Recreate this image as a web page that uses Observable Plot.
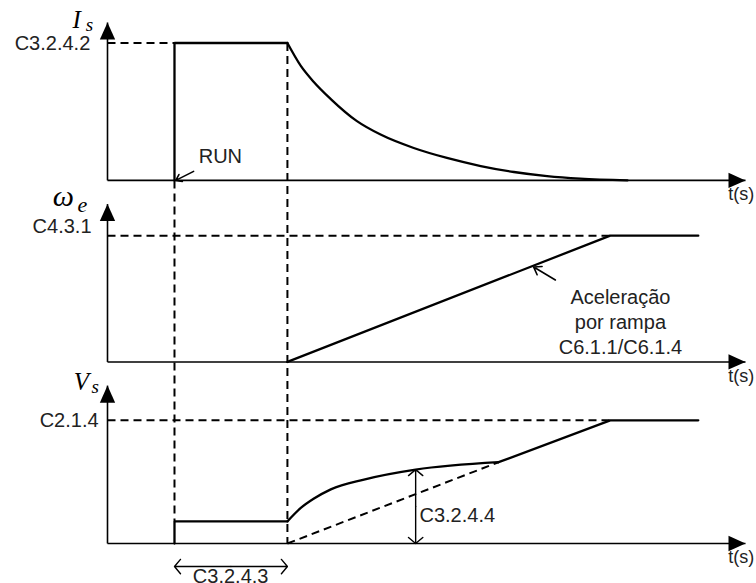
<!DOCTYPE html>
<html>
<head>
<meta charset="utf-8">
<script src="https://cdn.jsdelivr.net/npm/d3@7"></script>
<script src="https://cdn.jsdelivr.net/npm/@observablehq/plot@0.6"></script>
<style>
  body { margin: 0; background: #fff; }
  #chart svg { display: block; }
</style>
</head>
<body>
<div id="chart"></div>
<script>
// ---------------- data ----------------
const panelNames     = ["Is", "we", "Vs"];
const axisTitleMain  = ["I", "ω", "V"];
const axisTitleSub   = ["s", "e", "s"];
const levelLabels    = ["C3.2.4.2", "C4.3.1", "C2.1.4"];
const levelValues    = [0.87, 0.80, 0.78];      // reference levels (fraction of axis height)

const tRun      = 1.05;   // RUN command
const tLimitEnd = 2.82;   // end of current-limit interval (C3.2.4.3)
const tRampEnd  = 7.88;   // end of acceleration ramp
const tEnd      = 9.26;   // end of the drawn traces
const tAxisMax  = 10;     // time axis length

// current Is : decay after the limit interval
const isDecayT = [2.82, 3.03, 3.23, 3.50, 3.91, 4.28, 4.80, 5.32, 5.85, 6.37, 6.89, 7.41, 8.15];
const isDecayV = [0.87, 0.725, 0.625, 0.515, 0.375, 0.29, 0.205, 0.142, 0.091, 0.053, 0.027, 0.011, 0];

// voltage Vs : step, boost curve, then ramp
const vsStepV  = 0.14;
const vsCurveT = [2.82, 3.03, 3.23, 3.50, 4.02, 4.83, 6.13];
const vsCurveV = [0.14, 0.225, 0.283, 0.343, 0.405, 0.468, 0.515];
const vsBoostT = 4.83;    // where C3.2.4.4 is measured

const tAxisLabel  = "t(s)";
const runLabel    = "RUN";
const rampLabel   = "Aceleração\npor rampa\nC6.1.1/C6.1.4";
const boostLabel  = "C3.2.4.4";
const limitLabel  = "C3.2.4.3";

// ---------------- layout ----------------
const base = [2.3, 1.15, 0];                    // vertical offset of each panel
const Y = (k, v) => base[k] + v;
const L = levelValues;

const labelPosT = [-0.27, -0.25, -0.14];
const labelPosV = [0.865, 0.86, 0.78];
const titlePosT = [-0.55, -0.86, -0.53];
const titlePosV = [0.962, 0.987, 0.975];
const subPosT   = [-0.34, -0.47, -0.25];
const subPosV   = [0.943, 0.949, 0.956];

// ---------------- build marks data ----------------
const solid = [];
const push = (id, k, ts, vs) => ts.forEach((t, i) => solid.push({id, t, y: Y(k, vs[i])}));
push("isStep", 0, [tRun, tRun, tLimitEnd], [0, L[0], L[0]]);
push("weRamp", 1, [tLimitEnd, tRampEnd, tEnd], [0, L[1], L[1]]);
push("vsStep", 2, [tRun, tRun, tLimitEnd], [0, vsStepV, vsStepV]);
const lastT = vsCurveT[vsCurveT.length - 1], lastV = vsCurveV[vsCurveV.length - 1];
push("vsRamp", 2, [lastT, tRampEnd, tEnd], [lastV, L[2], L[2]]);

const curves = [];
isDecayT.forEach((t, i) => curves.push({id: "is", t, y: Y(0, isDecayV[i])}));
vsCurveT.forEach((t, i) => curves.push({id: "vs", t, y: Y(2, vsCurveV[i])}));

const axes = [];
panelNames.forEach((p, k) => {
  axes.push({x1: 0, y1: Y(k, 0), x2: 0, y2: Y(k, 1)});
  axes.push({x1: 0, y1: Y(k, 0), x2: tAxisMax, y2: Y(k, 0)});
});
const headsUp = panelNames.map((p, k) => ({t: 0, y: Y(k, 1)}));
const headsRight = panelNames.map((p, k) => ({t: tAxisMax, y: Y(k, 0)}));

const dashed = [
  {x1: tRun, y1: Y(0, 0), x2: tRun, y2: Y(2, vsStepV)},
  {x1: tLimitEnd, y1: Y(0, L[0]), x2: tLimitEnd, y2: Y(2, 0)},
  {x1: 0, y1: Y(0, L[0]), x2: tRun, y2: Y(0, L[0])},
  {x1: 0, y1: Y(1, L[1]), x2: tRampEnd, y2: Y(1, L[1])},
  {x1: 0, y1: Y(2, L[2]), x2: tRampEnd, y2: Y(2, L[2])},
  {x1: tLimitEnd, y1: Y(2, 0), x2: lastT, y2: Y(2, lastV)}
];

const levelText = levelLabels.map((s, k) => ({s, t: labelPosT[k], y: Y(k, labelPosV[k])}));
const titleText = axisTitleMain.map((s, k) => ({s, t: titlePosT[k], y: Y(k, titlePosV[k]), size: k === 1 ? 30 : 25}));
const subText = axisTitleSub.map((s, k) => ({s, t: subPosT[k], y: Y(k, subPosV[k]), size: k === 1 ? 22 : 19}));
const tText = panelNames.map((p, k) => ({s: tAxisLabel, t: 9.73, y: Y(k, -0.045)}));

const smallArrows = [
  {x1: 1.35, y1: Y(0, 0.057), x2: 1.07, y2: Y(0, 0.0)},
  {x1: 7.02, y1: Y(1, 0.519), x2: 6.68, y2: Y(1, 0.601)}
];
const boostMid = 0.468 / 2;
const limitY = -0.146;
const dimArrows = [
  {x1: vsBoostT, y1: Y(2, boostMid), x2: vsBoostT, y2: Y(2, 0.468)},
  {x1: vsBoostT, y1: Y(2, boostMid), x2: vsBoostT, y2: Y(2, 0)},
  {x1: (tRun + tLimitEnd) / 2, y1: Y(2, limitY), x2: tRun, y2: Y(2, limitY)},
  {x1: (tRun + tLimitEnd) / 2, y1: Y(2, limitY), x2: tLimitEnd, y2: Y(2, limitY)}
];

// custom arrowhead symbol: tip at origin, pointing up
const headSym = {
  draw(ctx, size) {
    const s = Math.sqrt(size);
    ctx.moveTo(0, 0);
    ctx.lineTo(-0.45 * s, s);
    ctx.lineTo(0.45 * s, s);
    ctx.closePath();
  }
};

const SANS = "'Liberation Sans', Arial, Helvetica, sans-serif";
const SERIF = "'Liberation Serif', 'Times New Roman', serif";
const TXT = "#222";

const chart = Plot.plot({
  width: 756,
  height: 583,
  marginLeft: 107,
  marginRight: 11,
  marginTop: 22,
  marginBottom: 40,
  x: {domain: [0, tAxisMax], axis: null},
  y: {domain: [0, 3.3], axis: null},
  style: {fontFamily: SANS, background: "#fff", overflow: "visible"},
  marks: [
    Plot.link(dashed, {x1: "x1", y1: "y1", x2: "x2", y2: "y2", stroke: "#000", strokeWidth: 2, strokeDasharray: "8,5"}),
    Plot.link(axes, {x1: "x1", y1: "y1", x2: "x2", y2: "y2", stroke: "#000", strokeWidth: 1.6}),
    Plot.dot(headsUp, {x: "t", y: "y", symbol: headSym, r: 9.6, fill: "#000", stroke: "none"}),
    Plot.dot(headsRight, {x: "t", y: "y", symbol: headSym, r: 9.6, fill: "#000", stroke: "none", rotate: 90}),
    Plot.line(solid, {x: "t", y: "y", z: "id", stroke: "#000", strokeWidth: 2.3, strokeLinejoin: "miter"}),
    Plot.line(curves, {x: "t", y: "y", z: "id", stroke: "#000", strokeWidth: 2.3, curve: "monotone-x"}),
    Plot.arrow(smallArrows, {x1: "x1", y1: "y1", x2: "x2", y2: "y2", stroke: "#000", strokeWidth: 1.6, headLength: 8, headAngle: 70}),
    Plot.arrow(dimArrows, {x1: "x1", y1: "y1", x2: "x2", y2: "y2", stroke: "#000", strokeWidth: 1.4, headLength: 10, headAngle: 100}),
    Plot.text(levelText, {x: "t", y: "y", text: "s", textAnchor: "end", lineAnchor: "middle", fontSize: 20, fill: TXT}),
    Plot.text(titleText, {x: "t", y: "y", text: "s", textAnchor: "start", lineAnchor: "bottom", fontSize: "size", fontFamily: SERIF, fontStyle: "italic", fill: "#000"}),
    Plot.text(subText, {x: "t", y: "y", text: "s", textAnchor: "start", lineAnchor: "bottom", fontSize: "size", fontFamily: SERIF, fontStyle: "italic", fill: "#000"}),
    Plot.text(tText, {x: "t", y: "y", text: "s", textAnchor: "start", lineAnchor: "top", fontSize: 18, fill: TXT}),
    Plot.text([{s: runLabel, t: 1.43, y: Y(0, 0.149)}], {x: "t", y: "y", text: "s", textAnchor: "start", lineAnchor: "middle", fontSize: 20, fill: TXT}),
    Plot.text([{s: rampLabel, t: 8.04, y: Y(1, 0.26)}], {x: "t", y: "y", text: "s", textAnchor: "middle", lineAnchor: "middle", lineHeight: 1.25, fontSize: 20, fill: TXT}),
    Plot.text([{s: boostLabel, t: 4.89, y: Y(2, 0.174)}], {x: "t", y: "y", text: "s", textAnchor: "start", lineAnchor: "middle", fontSize: 20, fill: TXT}),
    Plot.text([{s: limitLabel, t: 1.93, y: Y(2, -0.158)}], {x: "t", y: "y", text: "s", textAnchor: "middle", lineAnchor: "top", fontSize: 20, fill: TXT})
  ]
});
document.getElementById("chart").appendChild(chart);
</script>
</body>
</html>
